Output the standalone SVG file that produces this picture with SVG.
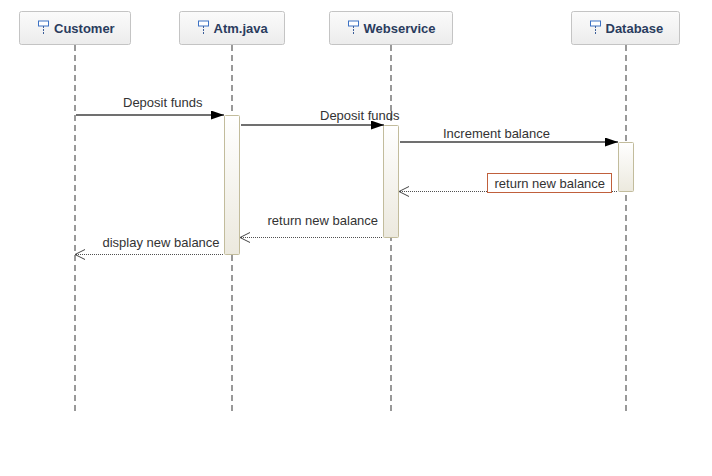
<svg xmlns="http://www.w3.org/2000/svg" width="712" height="476" viewBox="0 0 712 476">
<style>
.box{fill:url(#head);stroke:#c4c4c4;stroke-width:1}
.name{font:bold 13px "Liberation Sans",Arial,sans-serif;fill:#2a3c5e}
.life{stroke:#999;stroke-width:2;stroke-dasharray:6 4;fill:none}
.act{fill:url(#actg);stroke:#c2bc9c;stroke-width:1}
.sync{stroke:#707070;stroke-width:2;fill:none}
.ret{stroke:#505050;stroke-width:1;stroke-dasharray:1 1;fill:none}
.lbl{font:13px "Liberation Sans",Arial,sans-serif;fill:#333}
.ic{fill:#fff;stroke:#3d72c4;stroke-width:1}
.ics{stroke:#3d5f99;stroke-width:1;stroke-dasharray:2 1;fill:none}
</style>
<defs>
<linearGradient id="head" x1="0" y1="0" x2="0" y2="1"><stop offset="0" stop-color="#fbfbfb"/><stop offset="1" stop-color="#ececec"/></linearGradient>
<linearGradient id="actg" x1="0" y1="0" x2="0" y2="1"><stop offset="0" stop-color="#ffffff"/><stop offset="1" stop-color="#ece9de"/></linearGradient>
<marker id="fill" markerUnits="userSpaceOnUse" markerWidth="14" markerHeight="10" refX="13" refY="4.500" orient="auto"><path d="M0 0L13 4.500L0 9Z" fill="#000"/></marker>
<marker id="open" markerUnits="userSpaceOnUse" markerWidth="13" markerHeight="12" refX="11" refY="6" orient="auto"><path d="M1 1L11 6L1 11" fill="none" stroke="#444" stroke-width="1"/></marker>
</defs>
<rect width="712" height="476" fill="#fff"/>
<g id="lifelines">
<path class="life" d="M75 45V411"/>
<path class="life" d="M232 45V411"/>
<path class="life" d="M391 45V411"/>
<path class="life" d="M626 45V411"/>
</g>
<g id="node-customer">
<rect class="box" x="19.500" y="11.500" width="111" height="33" rx="2"/>
<rect class="ic" x="38.500" y="21" width="10" height="5"/><path class="ics" d="M43.500 26V35"/>
<text class="name" x="54" y="33">Customer</text>
</g>
<g id="node-atm">
<rect class="box" x="179.500" y="11.500" width="105" height="33" rx="2"/>
<rect class="ic" x="198.500" y="21" width="10" height="5"/><path class="ics" d="M203.500 26V35"/>
<text class="name" x="213.500" y="33">Atm.java</text>
</g>
<g id="node-webservice">
<rect class="box" x="329.500" y="11.500" width="123" height="33" rx="2"/>
<rect class="ic" x="348.500" y="21" width="10" height="5"/><path class="ics" d="M353.500 26V35"/>
<text class="name" x="363.500" y="33">Webservice</text>
</g>
<g id="node-database">
<rect class="box" x="571.500" y="11.500" width="108" height="33" rx="2"/>
<rect class="ic" x="590.500" y="21" width="10" height="5"/><path class="ics" d="M595.500 26V35"/>
<text class="name" x="605.500" y="33">Database</text>
</g>
<g id="activations">
<rect class="act" x="224.500" y="115.500" width="15" height="139" rx="1"/>
<rect class="act" x="383.500" y="125.500" width="15" height="112" rx="1"/>
<rect class="act" x="618.500" y="142.500" width="15" height="49" rx="1"/>
</g>
<g id="connectors">
<path class="sync" d="M76 115H224" marker-end="url(#fill)"/>
<path class="sync" d="M241 125H384" marker-end="url(#fill)"/>
<path class="sync" d="M400 142H618" marker-end="url(#fill)"/>
<path class="ret" d="M617 191.500H399" marker-end="url(#open)"/>
<path class="ret" d="M382 237.500H240" marker-end="url(#open)"/>
<path class="ret" d="M223 254.500H75" marker-end="url(#open)"/>
</g>
<g id="labels">
<text class="lbl" x="123" y="107">Deposit funds</text>
<text class="lbl" x="320" y="120">Deposit funds</text>
<text class="lbl" x="443" y="138">Increment balance</text>
<rect x="487.500" y="173.500" width="124" height="19" fill="#fff" stroke="#c0603c"/>
<text class="lbl" x="494.500" y="188">return new balance</text>
<text class="lbl" x="267.500" y="225">return new balance</text>
<text class="lbl" x="102.500" y="247">display new balance</text>
</g>
</svg>
